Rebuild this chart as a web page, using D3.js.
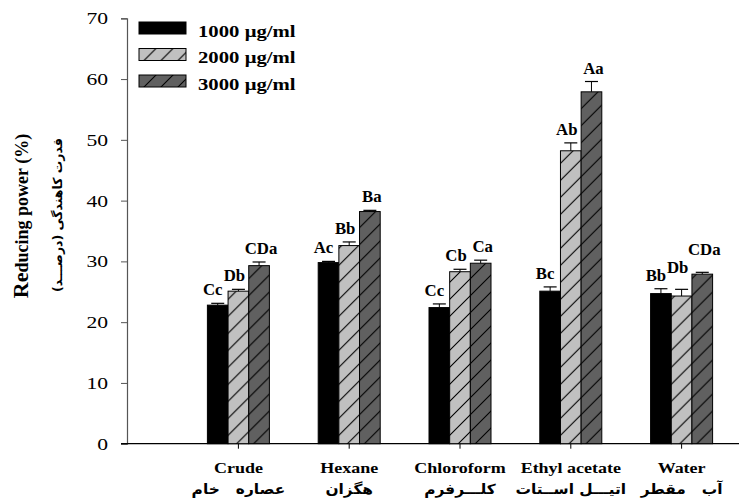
<!DOCTYPE html>
<html>
<head>
<meta charset="utf-8">
<script src="https://cdn.jsdelivr.net/npm/d3@7"></script>
<style>
  body { margin: 0; background: #fff; }
  svg { display: block; }
  .serif { font-family: "Liberation Serif", "Times New Roman", serif; }
  .fa { font-family: "DejaVu Sans", sans-serif; font-weight: bold; white-space: pre; }
</style>
</head>
<body>
<div id="chart"></div>
<script>
// categories + persian names
const categories = ["Crude", "Hexane", "Chloroform", "Ethyl acetate", "Water"];
const categoriesFa = ["عصاره   خام", "هگزان", "کلـــرفرم", "اتیـــل اســتات", "آب   مقطر"];

const series = ["1000 μg/ml", "2000 μg/ml", "3000 μg/ml"];

// values per series, one entry per category
const v1000 = [22.8, 29.8, 22.4, 25.1, 24.7];
const v2000 = [25.1, 32.6, 28.3, 48.2, 24.3];
const v3000 = [29.3, 38.2, 29.7, 57.9, 27.9];

const e1000 = [0.3, 0.2, 0.6, 0.7, 0.8];
const e2000 = [0.3, 0.6, 0.4, 1.3, 1.1];
const e3000 = [0.6, 0.2, 0.5, 1.7, 0.3];

const l1000 = ["Cc", "Ac", "Cc", "Bc", "Bb"];
const l2000 = ["Db", "Bb", "Cb", "Ab", "Db"];
const l3000 = ["CDa", "Ba", "Ca", "Aa", "CDa"];

const yTicks = [0, 10, 20, 30, 40, 50, 60, 70];

const width = 739, height = 502;
const sx = 1.28; // the original figure is stretched sideways

const svg = d3.select("#chart").append("svg")
    .attr("width", width)
    .attr("height", height);

// hatch patterns
const defs = svg.append("defs");
function hatch(id, fill) {
    let p = defs.append("pattern")
        .attr("id", id)
        .attr("patternUnits", "userSpaceOnUse")
        .attr("width", 17).attr("height", 17);
    p.append("rect").attr("width", 17).attr("height", 17).attr("fill", fill);
    p.append("path")
        .attr("d", "M0,17 L17,0 M-4,4 L4,-4 M13,21 L21,13")
        .attr("stroke", "#000").attr("stroke-width", 1.1);
}
hatch("h2000", "#c0c0c0");
hatch("h3000", "#606060");
const fills = ["#000", "url(#h2000)", "url(#h3000)"];

const x0 = 127, yBase = 443.7, yTop = 18.3;

const y = d3.scaleLinear().domain([0, 70]).range([yBase, yTop]);
const x = d3.scaleBand().domain(categories).range([183, 737]);
const xs = d3.scaleBand().domain(series).range([-31, 31]);
const labelShift = [-5, -4, 2];

const rows = categories.map((c, i) => ({
    cat: c,
    bars: [
        { s: series[0], v: v1000[i], e: e1000[i], l: l1000[i], f: fills[0] },
        { s: series[1], v: v2000[i], e: e2000[i], l: l2000[i], f: fills[1] },
        { s: series[2], v: v3000[i], e: e3000[i], l: l3000[i], f: fills[2] }
    ]
}));

// stretched text helper
function stext(sel, px, py, txt, opt) {
    opt = opt || {};
    return sel.append("text")
        .attr("class", opt.cls || "serif")
        .attr("transform", `translate(${px},${py}) scale(${opt.scale || sx},1)`)
        .attr("text-anchor", opt.anchor || "middle")
        .attr("font-size", opt.size || 16)
        .attr("font-weight", opt.weight || "bold")
        .attr("fill", "#000")
        .text(txt);
}

// y axis
const yAxis = svg.append("g")
    .attr("transform", `translate(${x0},0)`)
    .call(d3.axisLeft(y).tickValues(yTicks).tickSize(6).tickFormat(d3.format("d")));
yAxis.select(".domain").attr("stroke", "#555").attr("stroke-width", 1.2);
yAxis.selectAll(".tick line").attr("stroke", "#555");
yAxis.selectAll(".tick text").remove();
yAxis.selectAll(".tick").each(function(d) {
    stext(d3.select(this), -19, 5.5, d, { anchor: "end", weight: "normal", size: 16, scale: 1.35 });
});

// x axis
svg.append("line")
    .attr("x1", 121).attr("x2", 739)
    .attr("y1", yBase).attr("y2", yBase)
    .attr("stroke", "#000").attr("stroke-width", 1.2);

const groups = svg.append("g").selectAll("g.cat")
    .data(rows).enter().append("g")
    .attr("class", "cat")
    .attr("transform", d => `translate(${x(d.cat) + x.bandwidth() / 2},0)`);

groups.append("line")
    .attr("y1", yBase).attr("y2", yBase + 5)
    .attr("stroke", "#000");

groups.each(function(d, i) {
    stext(d3.select(this), 0, 473, d.cat, { size: 15, scale: 1.2 });
    stext(d3.select(this), 0, 494, categoriesFa[i], { cls: "fa", size: 14, scale: 1.1 });
});

// bars
groups.selectAll("rect.bar")
    .data(d => d.bars).enter().append("rect")
    .attr("class", "bar")
    .attr("x", b => xs(b.s))
    .attr("width", xs.bandwidth())
    .attr("y", b => y(b.v))
    .attr("height", b => yBase - y(b.v))
    .attr("fill", b => b.f)
    .attr("stroke", "#000")
    .attr("stroke-width", 1);

// error bars (upper only)
const eb = groups.selectAll("g.err")
    .data(d => d.bars).enter().append("g")
    .attr("class", "err")
    .attr("transform", b => `translate(${xs(b.s) + xs.bandwidth() / 2},0)`);
eb.append("line")
    .attr("y1", b => y(b.v)).attr("y2", b => y(b.v + b.e))
    .attr("stroke", "#000");
eb.append("line")
    .attr("x1", -6.5).attr("x2", 6.5)
    .attr("y1", b => y(b.v + b.e)).attr("y2", b => y(b.v + b.e))
    .attr("stroke", "#000").attr("stroke-width", 1.2);

// letter labels: stagger upward when they sit right next to the left neighbour
groups.each(function(d) {
    let g = d3.select(this);
    let prev = null;
    d.bars.forEach((b, j) => {
        let cx = xs(b.s) + xs.bandwidth() / 2 + labelShift[j];
        let base = y(b.v + b.e) - 8;
        let t = stext(g, cx, base, b.l, { size: 16, scale: 1.05 });
        let w = t.node().getComputedTextLength() * 1.05;
        if (prev) {
            let gap = (cx - w / 2) - prev.right;
            if (gap < 0 && Math.abs(base - prev.base) < 18) base = Math.min(base, prev.base - 18);
            else if (gap < 3 && Math.abs(base - prev.base) < 8) base = Math.min(base, prev.base - 8);
            t.attr("transform", `translate(${cx},${base}) scale(1.05,1)`);
        }
        prev = { right: cx + w / 2, base: base };
    });
});

// legend
const legend = svg.append("g").selectAll("g")
    .data(series).enter().append("g")
    .attr("transform", (d, i) => `translate(139,${22 + i * 26.5})`);
legend.append("rect")
    .attr("width", 47).attr("height", 12)
    .attr("fill", (d, i) => fills[i])
    .attr("stroke", "#000");
legend.each(function(d) {
    stext(d3.select(this), 59, 14.5, d, { anchor: "start", size: 17, scale: 1.22 });
});

// y titles
const t1 = svg.append("text")
    .attr("class", "serif")
    .attr("transform", "translate(28,216) rotate(-90)")
    .attr("text-anchor", "middle")
    .attr("font-weight", "bold")
    .attr("font-size", 18);
t1.append("tspan").attr("font-size", 22).text("Re");
t1.append("tspan").text("ducing power (%)");

svg.append("text")
    .attr("class", "fa")
    .attr("transform", "translate(62,215) rotate(-90)")
    .attr("text-anchor", "middle")
    .attr("font-size", 12.5)
    .text("قدرت کاهندگی (درصـــد)");
</script>
</body>
</html>
